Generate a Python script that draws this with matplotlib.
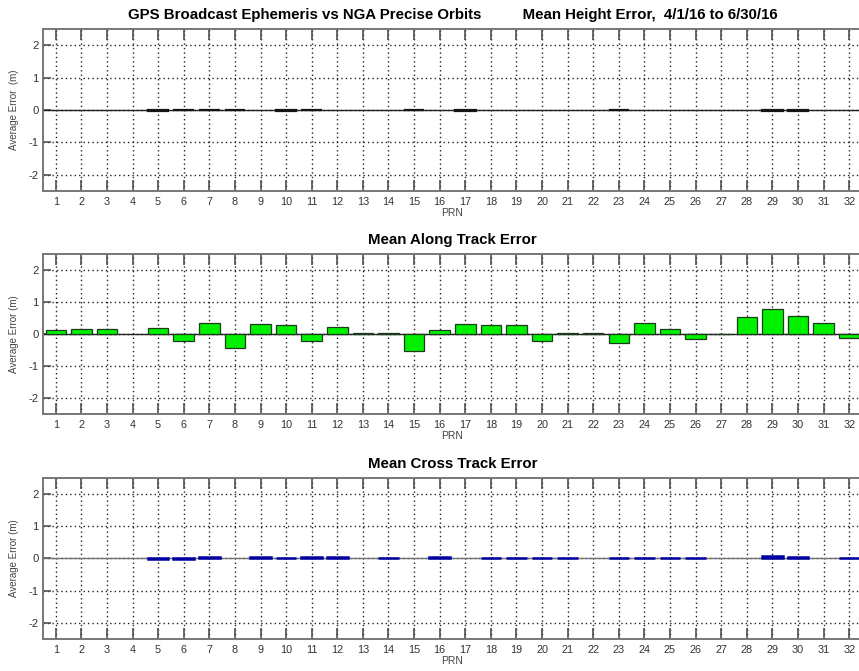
import numpy as np
import matplotlib
matplotlib.use('Agg')
import matplotlib.pyplot as plt

plt.rcParams['font.family'] = ['Liberation Sans', 'DejaVu Sans']
plt.rcParams['axes.unicode_minus'] = False

prn = list(range(1, 33))

# mean errors (m) per PRN (0 = no bar)
height_err = [0, 0, 0, 0, -0.02, 0.01, 0.01, 0.01, 0, -0.02, 0.01, 0, 0, 0, 0.01, 0,
              -0.02, 0, 0, 0, 0, 0, 0.01, 0, 0, 0, 0, 0, -0.02, -0.02, 0, 0]
along_err = [0.12, 0.15, 0.15, 0, 0.19, -0.22, 0.33, -0.44, 0.30, 0.28, -0.22, 0.22,
             0.02, 0.03, -0.52, 0.14, 0.32, 0.28, 0.28, -0.22, 0.02, 0.02, -0.29, 0.35,
             0.15, -0.17, -0.01, 0.53, 0.79, 0.55, 0.35, -0.11]
cross_err = [0, 0, 0, 0, -0.02, -0.01, 0.04, 0, 0.05, 0.02, 0.05, 0.04, 0, 0.02, 0, 0.04,
             0, 0.02, 0.02, 0.02, 0.02, 0, 0.03, 0.03, 0.03, 0.03, 0, 0, 0.09, 0.05, 0, 0.02]

panels = [
    ('GPS Broadcast Ephemeris vs NGA Precise Orbits          Mean Height Error,  4/1/16 to 6/30/16',
     height_err, '#151515', '#151515', 1.6, '#202020', 'Average Error  (m)',
     [0.050, 0.7154, 0.9535, 0.2414]),
    ('Mean Along Track Error', along_err, '#00f000', '#1a3a1a', 0.9, '#202020', 'Average Error (m)',
     [0.050, 0.383, 0.9535, 0.2385]),
    ('Mean Cross Track Error', cross_err, '#0000d0', '#0000a0', 1.8, '#707070', 'Average Error (m)',
     [0.050, 0.0477, 0.9535, 0.2400]),
]

fig = plt.figure(figsize=(8.59, 6.71), dpi=100)

for title, vals, color, edge, elw, zcol, ylab, pos in panels:
    ax = fig.add_axes(pos)
    # no outline for PRNs without data
    lws = [elw if v != 0 else 0 for v in vals]
    ax.bar(prn, vals, width=0.8, color=color, edgecolor=edge, linewidth=lws, zorder=3)
    ax.axhline(0, color=zcol, lw=1.0, zorder=2)
    ax.set_xlim(0.5, 32.5)
    ax.set_ylim(-2.5, 2.5)
    ax.set_xticks(prn)
    ax.set_yticks([-2, -1, 0, 1, 2])
    ax.grid(True, color='#222222', linestyle=(0, (1, 2.2)), linewidth=1.0)
    ax.tick_params(direction='in', length=8, width=1.2, color='#505050',
                   labelsize=7.8, labelcolor='#333333', top=True, right=False, pad=4)
    ax.tick_params(axis='y', length=6, labelsize=8.2, pad=3)
    for s in ax.spines.values():
        s.set_color('#777777')
        s.set_linewidth(1.4)
    ax.spines['right'].set_visible(False)
    ax.set_title(title, fontsize=10.8, fontweight='bold', pad=7)
    ax.set_xlabel('PRN', fontsize=7.5, color='#444444', labelpad=1)
    ax.set_ylabel(ylab, fontsize=7, color='#444444', labelpad=7)

fig.savefig('out.png', dpi=100)
